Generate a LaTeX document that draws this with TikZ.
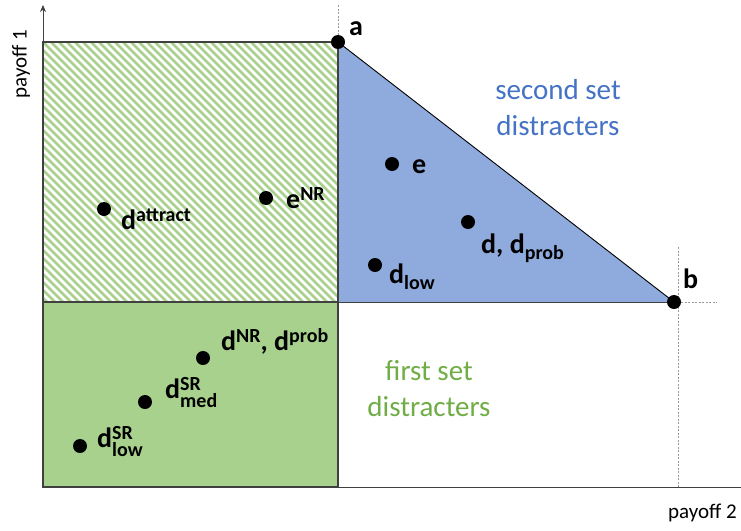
\documentclass[tikz,border=0pt]{standalone}
\usepackage{fontspec}
\setmainfont{Carlito}
\usetikzlibrary{arrows.meta}
\definecolor{hatchgreen}{HTML}{A9D18E}
\definecolor{fillgreen}{HTML}{A9D18E}
\definecolor{fillblue}{HTML}{8FAADC}
\definecolor{textblue}{HTML}{4472C4}
\definecolor{textgreen}{HTML}{70AD47}
\definecolor{edgegrey}{HTML}{404040}
\newcommand\mysup[1]{\raisebox{8pt}{\fontsize{20}{20}\selectfont #1}}
\newcommand\mysub[1]{\raisebox{-6pt}{\fontsize{20}{20}\selectfont #1}}
\newcommand\mysupsub[2]{\raisebox{-9pt}{\fontsize{20}{17}\selectfont\vbox{\baselineskip=17pt\lineskiplimit=-30pt\hbox{#1}\hbox{#2}}}}
\tikzset{
  dot/.style={circle,fill=black,minimum size=14pt,inner sep=0pt},
  lbl/.style={anchor=base west,inner sep=0pt,font=\fontsize{28}{30}\selectfont\bfseries},
  area/.style={inner sep=0pt,align=center,font=\fontsize{29}{36}\selectfont},
  axislbl/.style={inner sep=0pt,font=\fontsize{21}{24}\selectfont},
  guide/.style={draw=gray!80,line width=0.6pt,dash pattern=on 2pt off 1.5pt},
  axis/.style={draw=black!75,line width=0.8pt},
  stripe/.style={draw=hatchgreen,line width=2.8pt},
  border/.style={draw=edgegrey,line width=1.3pt}
}
\begin{document}
\begin{tikzpicture}[x=1pt,y=-1pt]
\useasboundingbox (0,0) rectangle (741,530);
% coordinates
\coordinate (O) at (43,487);
\coordinate (Ytop) at (43,5);
\coordinate (Xend) at (741,487);
\coordinate (HL) at (43,42);
\coordinate (HR) at (338,302);
\coordinate (GL) at (43,302);
\coordinate (GR) at (338,487);
\coordinate (aTop) at (338,5);
\coordinate (bRight) at (717,302);
\coordinate (bTop) at (678,247);
\coordinate (bBot) at (678,487);
% green solid rectangle
\fill[fillgreen] (GL) rectangle (GR);
% hatched rectangle
\begin{scope}
\clip (HL) rectangle (HR);
\foreach \i in {-280,-272,...,300} \draw[stripe] (43+\i,42) -- ++(280,280);
\end{scope}
% blue triangle
\fill[fillblue] (338,42) -- (338,302) -- (674,302) -- cycle;
% guides
\draw[guide] (aTop) -- (GR);
\draw[guide] (HR) -- (bRight);
\draw[guide] (bTop) -- (bBot);
% borders
\draw[border] (HL) rectangle (HR);
\draw[border] (GL) rectangle (GR);
\draw[black,line width=0.9pt] (338,42) -- (674,302);
\draw[edgegrey,line width=1.0pt] (338,302) -- (674,302);
% axes
\draw[axis,-{Stealth[length=7pt,width=6pt]}] (O) -- (Ytop);
\draw[axis] (O) -- (Xend);
% points
\node[dot] (a) at (338,42) {};
\node[dot] (b) at (674,302) {};
\node[dot] (e) at (392,164) {};
\node[dot] (d) at (468,222) {};
\node[dot] (dlow) at (375,265) {};
\node[dot] (eNR) at (266,198) {};
\node[dot] (dattr) at (104,209) {};
\node[dot] (dNR) at (203,358) {};
\node[dot] (dmed) at (145,402) {};
\node[dot] (dsrlow) at (80,446) {};
% labels
\node[lbl] (la) at (349,35) {a};
\node[lbl] (lb) at (683,288) {b};
\node[lbl] (le) at (412,173) {e};
\node[lbl] (ld) at (481,253) {d, d\mysub{prob}};
\node[lbl] (ldlow) at (389,283) {d\mysub{low}};
\node[lbl] (leNR) at (286,208) {e\mysup{NR}};
\node[lbl] (ldattr) at (121,229) {d\mysup{attract}};
\node[lbl] (ldNR) at (221,350) {d\mysup{NR}, d\mysup{prob}};
\node[lbl] (ldmed) at (165,398) {d\mysupsub{SR}{med}};
\node[lbl] (ldsrlow) at (97,447) {d\mysupsub{SR}{low}};
% area texts (base anchor = last line)
\node[area,text=textblue,anchor=base] (second) at (558,135) {second set\\distracters};
\node[area,text=textgreen,anchor=base] (first) at (429,416) {first set\\distracters};
% axis labels
\node[axislbl,anchor=base west] (p2) at (668,518) {payoff 2};
\node[axislbl,rotate=90] (p1) at (21,64) {payoff 1};
\end{tikzpicture}
\end{document}
